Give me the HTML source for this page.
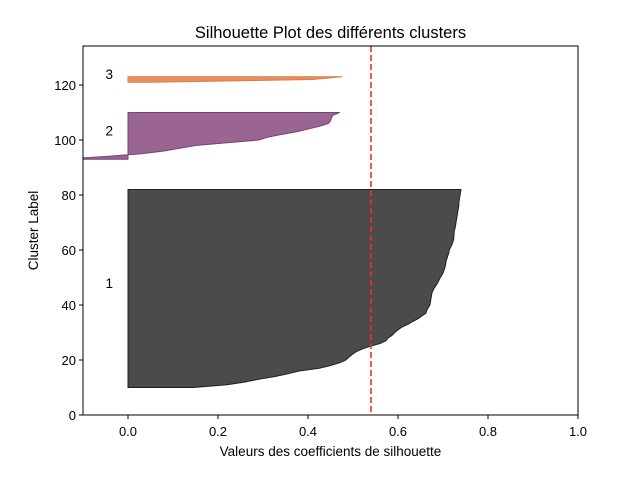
<!DOCTYPE html>
<html><head><meta charset="utf-8"><style>
body{margin:0;background:#fff;}
svg{display:block;font-family:"Liberation Sans","DejaVu Sans",sans-serif;}
</style></head><body>
<svg id="chart" width="642" height="482" viewBox="0 0 642 482">
<rect width="642" height="482" fill="#fff"/>
<g id="plot"></g>
</svg>
<script>
const clusterLabels = ["1","2","3"];
const clusterStarts = [10, 93, 121];
const cluster1Values = [0.145,0.22,0.26,0.29,0.327,0.355,0.38,0.425,0.45,0.47,0.484,0.491,0.498,0.507,0.52,0.538,0.56,0.573,0.578,0.587,0.593,0.6,0.609,0.622,0.633,0.644,0.653,0.662,0.664,0.667,0.671,0.672,0.673,0.674,0.675,0.677,0.68,0.684,0.688,0.691,0.694,0.698,0.701,0.703,0.705,0.706,0.707,0.709,0.711,0.713,0.714,0.717,0.72,0.722,0.724,0.724,0.725,0.725,0.727,0.728,0.729,0.73,0.731,0.732,0.733,0.734,0.735,0.735,0.736,0.737,0.738,0.739,0.74];
const cluster2Values = [-0.15,-0.05,0.03,0.08,0.115,0.15,0.22,0.29,0.31,0.34,0.375,0.40,0.425,0.445,0.45,0.452,0.455,0.47];
const cluster3Values = [0.05,0.41,0.475];
const averageScore = 0.54;
const xTicks = [0.0,0.2,0.4,0.6,0.8,1.0];
const yTicks = [0,20,40,60,80,100,120];

const L=83,R=578,T=46,B=415;
const xMin=-0.1,xMax=1.0,yMin=0,yMax=134.2;
const X=v=>L+(v-xMin)/(xMax-xMin)*(R-L);
const Y=v=>B-(v-yMin)/(yMax-yMin)*(B-T);
const NS="http://www.w3.org/2000/svg";
const g=document.getElementById('plot');
function mk(tag,attrs,parent){const e=document.createElementNS(NS,tag);for(const k in attrs)e.setAttribute(k,attrs[k]);(parent||g).appendChild(e);return e;}

const clip=mk('clipPath',{id:'cp'});
mk('rect',{x:L,y:T,width:R-L,height:B-T},clip);
const area=mk('g',{'clip-path':'url(#cp)'});

const series=[cluster1Values,cluster2Values,cluster3Values];
const fills=["#4b4b4d","#9a6493","#e8915e"];
const strokes=["#1f1f21","#7a4273","#d87a46"];
series.forEach((vals,ci)=>{
  const s=clusterStarts[ci];
  let pts=[];
  vals.forEach((v,i)=>pts.push(X(v).toFixed(1)+","+Y(s+i).toFixed(1)));
  for(let i=vals.length-1;i>=0;i--)pts.push(X(0).toFixed(1)+","+Y(s+i).toFixed(1));
  const p=mk('polygon',{points:pts.join(" "),fill:fills[ci],stroke:strokes[ci],'stroke-width':1,'stroke-linejoin':'round'},area);
  
  
  const t=mk('text',{x:X(-0.05),y:Y(s+vals.length/2)+1,'text-anchor':'start','font-size':13.5,fill:'#000'});
  t.textContent=clusterLabels[ci];
  
  
});

const avg=mk('line',{x1:X(averageScore),x2:X(averageScore),y1:T,y2:B,stroke:'#e8322b','stroke-width':1.6,'stroke-dasharray':'6,3'});



const frame=mk('rect',{x:L,y:T,width:R-L,height:B-T,fill:'none',stroke:'#000','stroke-width':1});



xTicks.forEach(v=>{
  const x=X(v);
  const tk=mk('line',{x1:x,x2:x,y1:B,y2:B+4,stroke:'#000'});
  
  
  const t=mk('text',{x:x,y:B+21,'text-anchor':'middle','font-size':13,fill:'#000'});
  t.textContent=v.toFixed(1);
  
  
});
yTicks.forEach(v=>{
  const y=Y(v);
  const tk=mk('line',{x1:L-4,x2:L,y1:y,y2:y,stroke:'#000'});
  
  
  const t=mk('text',{x:L-7,y:y+5,'text-anchor':'end','font-size':13,fill:'#000'});
  t.textContent=String(v);
  
  
});

const title=mk('text',{x:(L+R)/2,y:38,'text-anchor':'middle','font-size':16.5,fill:'#000'});
title.textContent="Silhouette Plot des différents clusters";



const xl=mk('text',{x:(L+R)/2,y:456,'text-anchor':'middle','font-size':13.5,fill:'#000'});
xl.textContent="Valeurs des coefficients de silhouette";



const yl=mk('text',{x:38,y:(T+B)/2,'text-anchor':'middle','font-size':13.5,fill:'#000',transform:'rotate(-90 38 '+((T+B)/2)+')'});
yl.textContent="Cluster Label";


</script>
</body></html>
